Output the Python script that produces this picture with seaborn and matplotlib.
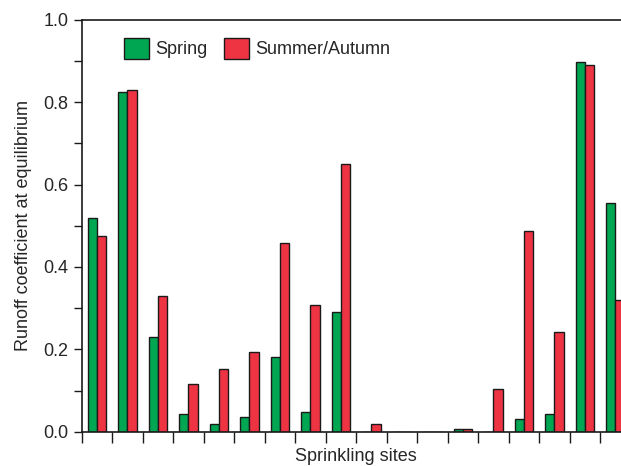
import pandas as pd
import matplotlib.pyplot as plt
import seaborn as sns

# Данные: коэффициент стока по площадкам дождевания
sites = [f"S{i}" for i in range(1, 19)]
spring = [0.518, 0.824, 0.229, 0.043, 0.019, 0.036, 0.181, 0.049, 0.290,
          0.0, 0.0, 0.0, 0.006, 0.0, 0.031, 0.044, 0.897, 0.555]
summer_autumn = [0.475, 0.830, 0.330, 0.115, 0.151, 0.193, 0.458, 0.307, 0.650,
                 0.019, 0.0, 0.0, 0.006, 0.103, 0.487, 0.241, 0.891, 0.320]
seasons = ["Spring", "Summer/Autumn"]
colors = ["#00A651", "#EE3342"]

data = pd.DataFrame({
    "site": sites * 2,
    "season": [seasons[0]] * len(sites) + [seasons[1]] * len(sites),
    "value": spring + summer_autumn,
})

sns.set_style("ticks")
plt.rcParams["font.family"] = ["Liberation Sans", "DejaVu Sans"]

fig = plt.figure(figsize=(6.21, 4.66), dpi=100)
ax = fig.add_axes([0.1316, 0.0736, 0.884, 0.884])

sns.barplot(data=data, x="site", y="value", hue="season", hue_order=seasons,
            palette=colors, width=0.61, edgecolor="#1a1a1a", linewidth=1.0,
            saturation=1, errorbar=None, ax=ax)

ax.set_xlim(-0.5, 17.5)
ax.set_ylim(0, 1.0)
ax.set_xticks([i - 0.5 for i in range(19)])
ax.set_xticklabels([])
ax.set_yticks([0, 0.2, 0.4, 0.6, 0.8, 1.0])
ax.set_yticklabels(["0.0", "0.2", "0.4", "0.6", "0.8", "1.0"])
ax.set_yticks([0.1, 0.3, 0.5, 0.7, 0.9], minor=True)
ax.tick_params(axis="y", which="both", direction="out", length=6, width=1,
               labelsize=13, color="#1a1a1a")
ax.tick_params(axis="x", direction="out", length=8, width=1, color="#1a1a1a")

for side in ["left", "top", "bottom"]:
    ax.spines[side].set_visible(True)
    ax.spines[side].set_linewidth(1.2)
    ax.spines[side].set_color("#1a1a1a")
ax.spines["right"].set_visible(False)

ax.set_xlabel("Sprinkling sites", fontsize=13, labelpad=0)
ax.set_ylabel("Runoff coefficient at equilibrium", fontsize=13, labelpad=8)

ax.legend(loc="upper left", bbox_to_anchor=(0.047, 0.995), ncol=2, frameon=False,
          fontsize=13, handlelength=1.4, handleheight=1.4, handletextpad=0.35,
          columnspacing=0.9)

fig.savefig("out.png", dpi=100)
